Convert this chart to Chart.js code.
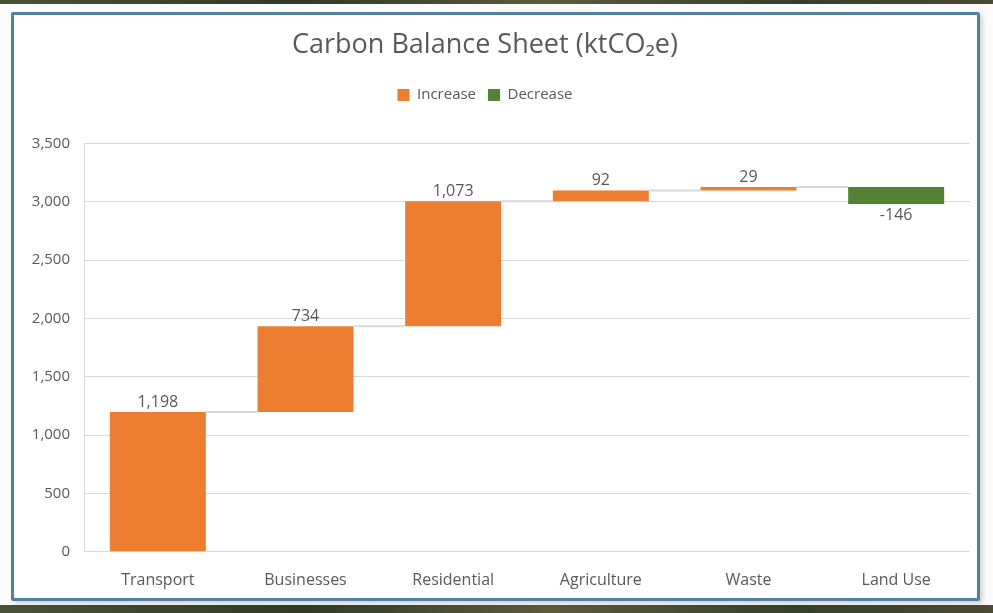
<!DOCTYPE html>
<html>
<head>
<meta charset="utf-8">
<script src="https://cdn.jsdelivr.net/npm/chart.js@4.4.1/dist/chart.umd.min.js"></script>
<style>
  html, body { margin: 0; padding: 0; background: #fff; }
  #page { position: relative; width: 993px; height: 613px; overflow: hidden; background: #fbfbfb; }
  .strip { position: absolute; left: 0; width: 993px; background: linear-gradient(90deg, #4a5236, #2f3a25 30%, #5c5a3c 55%, #34402a 80%, #4b4a33); }
  #frame { position: absolute; left: 11px; top: 12px; width: 963px; height: 583px;
           border: 3px solid #52809f; border-radius: 2px; background: #fff;
           box-shadow: 3px 3px 4px rgba(0,0,0,0.15); }
  #wrap { position: absolute; left: 0; top: 0; width: 993px; height: 613px; }
</style>
</head>
<body>
<div id="page">
  <div class="strip" style="top:0;height:4px"></div>
  <div class="strip" style="top:605px;height:8px"></div>
  <div id="frame"></div>
  <div id="wrap"><canvas id="chart"></canvas></div>
</div>
<script>
// values
const categories = ['Transport', 'Businesses', 'Residential', 'Agriculture', 'Waste', 'Land Use'];
const changes = [1198, 734, 1073, 92, 29, -146];
const yTicks = [0, 500, 1000, 1500, 2000, 2500, 3000, 3500];

const increaseColor = '#ed7d31';
const decreaseColor = '#548235';
const textColor = '#595959';
const fontFamily = '"Open Sans", Lato, sans-serif';

// floating ranges for the waterfall
const starts = [];
const ends = [];
let running = 0;
changes.forEach(c => {
  starts.push(running);
  running += c;
  ends.push(running);
});
const increaseData = changes.map((c, i) => c >= 0 ? [starts[i], ends[i]] : null);
const decreaseData = changes.map((c, i) => c < 0 ? [starts[i], ends[i]] : null);

// connector lines between bars
const connectors = {
  id: 'connectors',
  beforeDatasetsDraw(chart) {
    const ctx = chart.ctx;
    const y = chart.scales.y;
    const meta = chart.getDatasetMeta(0);
    const metaD = chart.getDatasetMeta(1);
    ctx.save();
    ctx.strokeStyle = '#d9d9d9';
    ctx.lineWidth = 2;
    for (let i = 0; i < changes.length - 1; i++) {
      const a = (changes[i] >= 0 ? meta : metaD).data[i];
      const b = (changes[i + 1] >= 0 ? meta : metaD).data[i + 1];
      const py = y.getPixelForValue(ends[i]);
      ctx.beginPath();
      ctx.moveTo(a.x + a.width / 2, py);
      ctx.lineTo(b.x - b.width / 2, py);
      ctx.stroke();
    }
    ctx.restore();
  }
};

// value labels above / below bars
const valueLabels = {
  id: 'valueLabels',
  afterDatasetsDraw(chart) {
    const ctx = chart.ctx;
    const y = chart.scales.y;
    const meta = chart.getDatasetMeta(0);
    const metaD = chart.getDatasetMeta(1);
    ctx.save();
    ctx.fillStyle = textColor;
    ctx.font = '16px ' + fontFamily;
    ctx.textAlign = 'center';
    changes.forEach((c, i) => {
      const bar = (c >= 0 ? meta : metaD).data[i];
      const txt = c.toLocaleString('en-US');
      if (c >= 0) {
        ctx.textBaseline = 'bottom';
        ctx.fillText(txt, bar.x, y.getPixelForValue(ends[i]) - 2);
      } else {
        ctx.textBaseline = 'top';
        ctx.fillText(txt, bar.x, y.getPixelForValue(ends[i]) + 3);
      }
    });
    ctx.restore();
  }
};

const legendGap = {
  id: 'legendGap',
  beforeInit(chart) {
    const fit = chart.legend.fit;
    chart.legend.fit = function () {
      fit.bind(chart.legend)();
      this.height += 31;
    };
  }
};

new Chart(document.getElementById('chart'), {
  type: 'bar',
  data: {
    labels: categories,
    datasets: [
      { label: 'Increase', data: increaseData, backgroundColor: increaseColor, grouped: false,
        barPercentage: 0.65, categoryPercentage: 1 },
      { label: 'Decrease', data: decreaseData, backgroundColor: decreaseColor, grouped: false,
        barPercentage: 0.65, categoryPercentage: 1 }
    ]
  },
  options: {
    responsive: true,
    maintainAspectRatio: false,
    animation: false,
    layout: { padding: { left: 0, right: 23, top: 0, bottom: 12 } },
    plugins: {
      title: {
        display: true,
        text: 'Carbon Balance Sheet (ktCO\u2082e)',
        color: textColor,
        font: { family: fontFamily, size: 27, weight: 'normal' },
        padding: { top: 29, bottom: 14 }
      },
      legend: {
        position: 'top',
        labels: {
          color: textColor,
          font: { family: fontFamily, size: 15 },
          boxWidth: 12,
          boxHeight: 12,
          padding: 12
        }
      },
      tooltip: { enabled: false }
    },
    scales: {
      x: {
        grid: { display: false },
        border: { display: false },
        ticks: { color: textColor, font: { family: fontFamily, size: 16 }, padding: 11 }
      },
      y: {
        min: 0,
        max: 3500,
        afterBuildTicks(scale) {
          scale.ticks = yTicks.map(v => ({ value: v }));
        },
        afterFit(scale) { scale.width = 84; },
        grid: { color: '#d9d9d9', lineWidth: 1, drawTicks: false },
        border: { display: true, color: '#d9d9d9' },
        ticks: {
          color: textColor,
          font: { family: fontFamily, size: 15 },
          padding: 14,
          callback: v => v.toLocaleString('en-US')
        }
      }
    }
  },
  plugins: [connectors, valueLabels, legendGap]
});
</script>
</body>
</html>
